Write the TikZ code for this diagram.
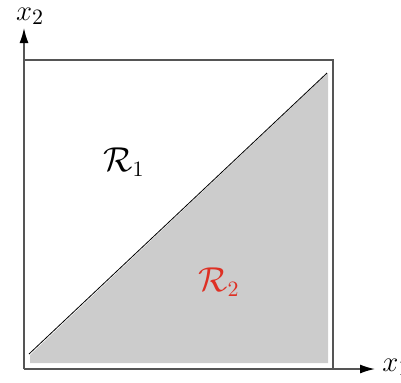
\documentclass[tikz,border=0pt]{standalone}
\usepackage{tikz}
\usetikzlibrary{positioning,arrows.meta}
\definecolor{regiongray}{RGB}{204,204,204}
\definecolor{regionred}{RGB}{222,48,36}
\definecolor{framegray}{RGB}{85,85,85}

\begin{document}
\begin{tikzpicture}[x=0.5pt,y=-0.5pt]
    \useasboundingbox (0,0) rectangle (401,382);
    \coordinate (O) at (24,369);\coordinate (Xend) at (375,369);\coordinate (Yend) at (24,28);
    \fill[regiongray] (30,355) -- (328,73) -- (328,363) -- (30,363) -- cycle;
    \draw[framegray,line width=0.75pt] (O) -- (24,60) -- (333,60) -- (333,369);
    \draw[black,line width=0.4pt] (29,354) -- (327,73);
    \draw[framegray,line width=0.75pt,-{Latex[black,length=7.5pt,width=4.5pt]}] (O) -- (Xend);
    \draw[framegray,line width=0.75pt,-{Latex[black,length=7.5pt,width=4.5pt]}] (O) -- (Yend);
    \node[anchor=west,inner sep=0pt,font=\fontsize{15}{17}\selectfont] (xone) at (382,367) {$x_1$};
    \node[anchor=south,inner sep=0pt,font=\fontsize{15}{17}\selectfont] (xtwo) at (30,25) {$x_2$};
    \node[font=\fontsize{16}{18}\selectfont] (Rone) at (124,162) {$\mathcal{R}_1$};
    \node[font=\fontsize{16}{18}\selectfont,text=regionred] (Rtwo) at (219,282) {$\mathcal{R}_2$};
  \end{tikzpicture}
\end{document}
